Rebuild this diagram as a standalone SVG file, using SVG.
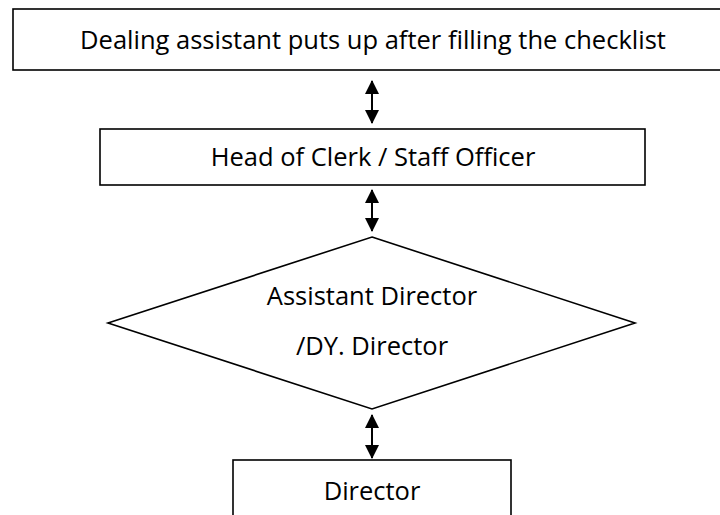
<svg xmlns="http://www.w3.org/2000/svg" width="720" height="515" viewBox="0 0 720 515">
  <style>
    .box { fill: #ffffff; stroke: #000000; stroke-width: 1.6; }
    .lbl { font-family: "Open Sans", "Noto Sans", "Liberation Sans", sans-serif; font-size: 25.5px; fill: #000000; text-anchor: middle; }
    .conn { stroke: #000000; stroke-width: 2; fill: none; marker-start: url(#ah); marker-end: url(#ah); }
  </style>
  <defs>
    <marker id="ah" viewBox="0 0 14 14" refX="13" refY="7" markerWidth="14" markerHeight="14" markerUnits="userSpaceOnUse" orient="auto-start-reverse">
      <path d="M0,0 L14,7 L0,14 Z" fill="#000000"/>
    </marker>
  </defs>
  <rect width="720" height="515" fill="#ffffff"/>
  <g id="connectors">
    <line class="conn" x1="372" y1="81" x2="372" y2="123"/>
    <line class="conn" x1="372" y1="190" x2="372" y2="231"/>
    <line class="conn" x1="372" y1="415" x2="372" y2="458"/>
  </g>
  <g id="node-dealing">
    <rect class="box" x="13" y="9" width="720" height="61"/>
    <text class="lbl" x="373" y="49">Dealing assistant puts up after filling the checklist</text>
  </g>
  <g id="node-head">
    <rect class="box" x="100" y="129" width="545" height="56"/>
    <text class="lbl" x="373" y="166">Head of Clerk / Staff Officer</text>
  </g>
  <g id="node-ad">
    <polygon class="box" points="372,237 635,323 372,409 108,323"/>
    <text class="lbl" x="372" y="305">Assistant Director</text>
    <text class="lbl" x="372" y="355">/DY. Director</text>
  </g>
  <g id="node-director">
    <rect class="box" x="233" y="460" width="278" height="70"/>
    <text class="lbl" x="372" y="500">Director</text>
  </g>
</svg>
